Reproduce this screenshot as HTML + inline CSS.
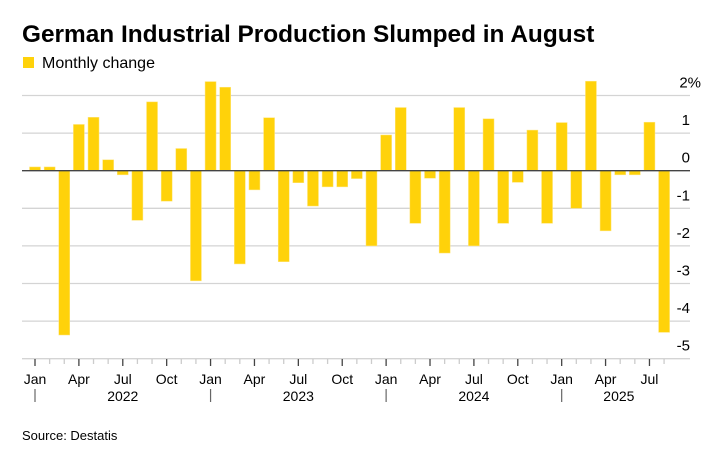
<!DOCTYPE html>
<html><head><meta charset="utf-8"><style>
body{margin:0;background:#fff;width:720px;height:455px;overflow:hidden;font-family:"Liberation Sans",Arial,sans-serif;}
</style></head><body>
<svg width="720" height="455" xmlns="http://www.w3.org/2000/svg">
<text x="22" y="42" font-size="24.4" font-weight="bold" fill="#000">German Industrial Production Slumped in August</text>
<rect x="23" y="57" width="11" height="11" fill="#FFD20A"/>
<text x="42" y="68" font-size="16" fill="#000">Monthly change</text>
<g id="grid"></g><g id="bars"></g><g id="axis"></g>
<text x="22" y="440" font-size="13" fill="#000">Source: Destatis</text>
</svg>
<script>
const values2022=[0.1,0.1,-4.37,1.23,1.42,0.29,-0.11,-1.32,1.83,-0.81,0.59,-2.93];
const values2023=[2.37,2.22,-2.48,-0.51,1.41,-2.42,-0.32,-0.94,-0.43,-0.43,-0.21,-2.0];
const values2024=[0.95,1.68,-1.4,-0.2,-2.19,1.68,-2.0,1.38,-1.4,-0.31,1.08,-1.4];
const values2025=[1.28,-1.0,2.38,-1.6,-0.11,-0.11,1.29,-4.3];
const yTicks=[2,1,0,-1,-2,-3,-4,-5];
const yTickLabels=["2%","1","0","-1","-2","-3","-4","-5"];
const monthLabels=["Jan","Apr","Jul","Oct"];
const years=["2022","2023","2024","2025"];
const values=[].concat(values2022,values2023,values2024,values2025);
const NS="http://www.w3.org/2000/svg";
const x0=35,step=14.63,y0=170.7,unit=37.6;
const xs=i=>x0+i*step, ys=v=>y0-v*unit;
function mk(t,a,p){const e=document.createElementNS(NS,t);for(const k in a)e.setAttribute(k,a[k]);p.appendChild(e);return e;}
const grid=document.getElementById('grid'),bars=document.getElementById('bars'),axis=document.getElementById('axis');
yTicks.forEach((v,i)=>{
 if(v!==0){const l=mk('line',{x1:22,x2:690,y1:ys(v),y2:ys(v),stroke:'#d4d4d4','stroke-width':1.3},grid);
 
 }
 const t=mk('text',{x:i==0?701:690,y:ys(v)-8,'font-size':15,'text-anchor':'end',fill:'#000'},axis);
 t.textContent=yTickLabels[i];
 
 
});
values.forEach((v,i)=>{
 const y=Math.min(ys(v),y0),h=Math.abs(ys(v)-y0);
 const r=mk('rect',{x:xs(i)-5.5,y:y,width:11,height:h,fill:'#FFD20A',stroke:'#FFE680','stroke-width':0.5},bars);
 
 
 const q=i%3===0;
 const tk=mk('line',{x1:xs(i),x2:xs(i),y1:359,y2:q?366:364,stroke:q?'#444':'#ccc','stroke-width':1.3},axis);
 
 
 if(q){const t=mk('text',{x:xs(i),y:384,'font-size':14,'text-anchor':'middle',fill:'#000'},axis);
 t.textContent=monthLabels[(i%12)/3];
 
 }
});
const zl=mk('line',{x1:22,x2:690,y1:y0,y2:y0,stroke:'#444','stroke-width':1.3},axis);


years.forEach((yr,k)=>{
 const s=k*12, n=Math.min(12,values.length-s);
 const sep=mk('line',{x1:xs(s),x2:xs(s),y1:389,y2:402,stroke:'#666','stroke-width':1.2},axis);
 
 
 const cx=k<3?(xs(s)+xs(s+n))/2:(xs(s)+xs(s+n-1))/2+6;
 const t=mk('text',{x:cx,y:401,'font-size':14,'text-anchor':'middle',fill:'#000'},axis);
 t.textContent=yr;
 
 
});
</script>
</body></html>
